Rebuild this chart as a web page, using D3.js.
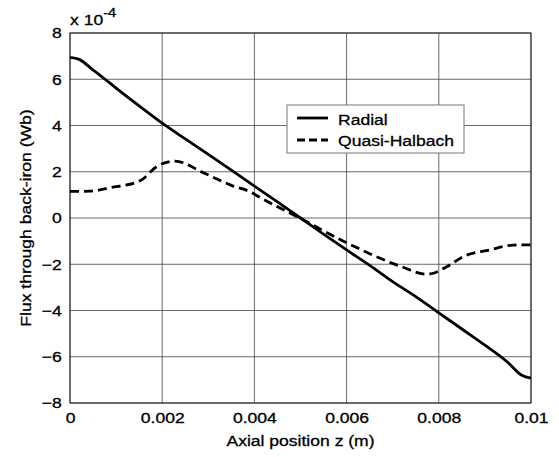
<!DOCTYPE html>
<html><head><meta charset="utf-8">
<script src="https://cdn.jsdelivr.net/npm/d3@7"></script>
<style>body{margin:0;background:#fff}svg{display:block}text{font-family:"Liberation Sans",Arial,sans-serif;fill:#000;stroke:#000;stroke-width:0.3px}</style>
</head><body><svg id="c" width="559" height="457"></svg>
<script>
const radialZ = [0,0.0002,0.0005,0.00076,0.001,0.0015,0.002,0.0025,0.003,0.0035,0.004,0.0045,0.005,0.0055,0.006,0.0065,0.007,0.0075,0.008,0.0085,0.009,0.0095,0.0098,0.01];
const radialV = [6.95,6.86,6.4,6.0,5.62,4.85,4.1,3.42,2.75,2.07,1.38,0.7,0,-0.7,-1.38,-2.05,-2.75,-3.4,-4.1,-4.8,-5.5,-6.25,-6.8,-6.92];
const halbachZ = [0,0.00043,0.00087,0.00152,0.00188,0.00228,0.00289,0.00354,0.0039,0.00412,0.00499,0.006,0.00716,0.00774,0.00781,0.00817,0.00853,0.00911,0.00962,0.01];
const halbachV = [1.15,1.16,1.31,1.61,2.22,2.46,1.96,1.38,1.14,0.89,-0.01,-1.07,-2.08,-2.43,-2.42,-2.11,-1.67,-1.38,-1.17,-1.16];
const xTicks = [0,0.002,0.004,0.006,0.008,0.01];
const xTickLabels = ["0","0.002","0.004","0.006","0.008","0.01"];
const yTicks = [-8,-6,-4,-2,0,2,4,6,8];
const seriesNames = ["Radial","Quasi-Halbach"];

const FS = "15px", SX = 1.17;
const svg = d3.select("#c");
const L=70,R=531,T=33,B=403;
const x = d3.scaleLinear().domain([0,0.01]).range([L,R]);
const y = d3.scaleLinear().domain([-8,8]).range([B,T]);

function txt(px,py,str,anchor,rot){
  const gg = svg.append("g").attr("transform",`translate(${px},${py})`+(rot?` rotate(${rot})`:"")+` scale(${SX},1)`);
  return gg.append("text").attr("text-anchor",anchor||"start").attr("font-size",FS).text(str);
}

const g = svg.append("g");
g.selectAll(".gx").data(xTicks).enter().append("line")
 .attr("x1",d=>x(d)).attr("x2",d=>x(d)).attr("y1",T).attr("y2",B)
 .attr("stroke","#444").attr("stroke-width",0.8);
g.selectAll(".gy").data(yTicks).enter().append("line")
 .attr("y1",d=>y(d)).attr("y2",d=>y(d)).attr("x1",L).attr("x2",R)
 .attr("stroke","#444").attr("stroke-width",0.8);
g.append("rect").attr("x",L).attr("y",T).attr("width",R-L).attr("height",B-T)
 .attr("fill","none").attr("stroke","#222").attr("stroke-width",1);

const xa = svg.append("g").attr("transform",`translate(0,${B})`)
 .call(d3.axisBottom(x).tickValues(xTicks).tickFormat((d,i)=>xTickLabels[i]).tickSize(0).tickPadding(9));
xa.select(".domain").remove();
xa.selectAll("text").attr("font-size",FS).attr("font-family","Liberation Sans, Arial, sans-serif").attr("fill","#000").attr("transform",`scale(${SX},1)`);
const ya = svg.append("g").attr("transform",`translate(${L},0)`)
 .call(d3.axisLeft(y).tickValues(yTicks).tickFormat(d3.format("d")).tickSize(0).tickPadding(7));
ya.select(".domain").remove();
ya.selectAll("text").attr("font-size",FS).attr("font-family","Liberation Sans, Arial, sans-serif").attr("fill","#000").attr("transform",`scale(${SX},1)`);

const ex = txt(70,25,"","start");
ex.append("tspan").text("x 10");
ex.append("tspan").attr("dy",-8).attr("font-size","12.5px").text("-4");

txt((L+R)/2,446,"Axial position z (m)","middle");
txt(31,(T+B)/2,"Flux through back-iron (Wb)","middle",-90);

const line = d3.line().x(d=>x(d[0])).y(d=>y(d[1])).curve(d3.curveMonotoneX);
svg.append("path").datum(radialZ.map((z,i)=>[z,radialV[i]])).attr("d",line)
 .attr("fill","none").attr("stroke","#000").attr("stroke-width",2.8).attr("stroke-linejoin","round");
svg.append("path").datum(halbachZ.map((z,i)=>[z,halbachV[i]])).attr("d",line)
 .attr("fill","none").attr("stroke","#000").attr("stroke-width",2.8).attr("stroke-dasharray","9,5");

const lg = svg.append("g");
lg.append("rect").attr("x",287).attr("y",105).attr("width",177).attr("height",48)
 .attr("fill","#fff").attr("stroke","#777").attr("stroke-width",1);
lg.append("line").attr("x1",297).attr("x2",328).attr("y1",118).attr("y2",118).attr("stroke","#000").attr("stroke-width",2.8);
lg.append("line").attr("x1",297).attr("x2",328).attr("y1",140).attr("y2",140).attr("stroke","#000").attr("stroke-width",2.8).attr("stroke-dasharray","8,4");
txt(338,125,seriesNames[0]);
txt(338,146,seriesNames[1]);
</script></body></html>
